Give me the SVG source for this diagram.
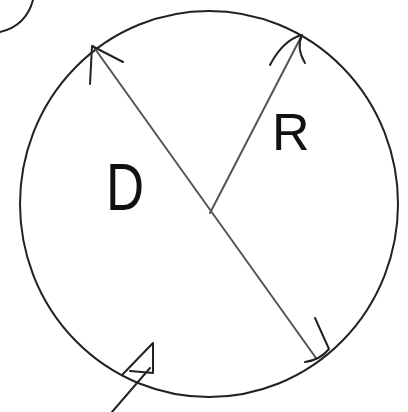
<svg xmlns="http://www.w3.org/2000/svg" width="408" height="412" viewBox="0 0 408 412">
<style>
.s{fill:none;stroke:#222;stroke-width:2;stroke-linecap:round;stroke-linejoin:round}
.g{fill:none;stroke:#555;stroke-width:2;stroke-linecap:round}
.t{font-family:"Liberation Sans",Arial,sans-serif;fill:#111}
</style>
<rect width="408" height="412" fill="#fff"/>
<g id="corner"><path class="s" d="M0,32 Q26,26 33,0"/></g>
<g id="circle"><ellipse class="s" cx="209" cy="204" rx="189" ry="193"/></g>
<g id="connectors">
<line class="g" x1="93" y1="46" x2="316" y2="358"/>
<line class="g" x1="210" y1="213" x2="301" y2="37"/>
<path class="s" d="M90,84 L92,46 L123,62"/>
<path class="s" d="M270,65 Q283,40 302,35 Q296,48 305,63"/>
<path class="s" d="M315,318 L329,349 Q320,360 305,362"/>
<path class="s" d="M112,412 L150,368"/>
<path class="s" d="M122,375 L153,343 L153,373 L130,371"/>
</g>
<g id="labelD"><text class="t" transform="translate(106,210) scale(0.8,1)" x="0" y="0" font-size="66">D</text></g>
<g id="labelR"><text class="t" x="272" y="150" font-size="52">R</text></g>
</svg>
